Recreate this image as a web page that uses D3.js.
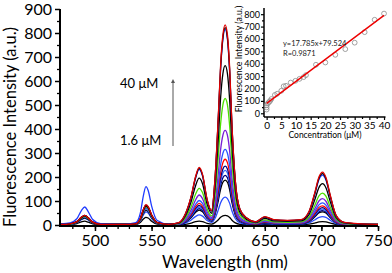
<!DOCTYPE html>
<html><head><meta charset="utf-8">
<script src="https://cdn.jsdelivr.net/npm/d3@7"></script>
<style>body{margin:0;background:#fff}svg{display:block;font-family:Lato,"Open Sans",sans-serif}</style>
</head><body><svg id="c" width="392" height="273"></svg>
<script>
// ---------- DATA ----------
const wavelengths = [470,478,484,488,491,494,498,505,525,536,540,543,545,547,550,555,565,
  574,580,585,589,592,595,599,603,606,609,611,613,615,617,619,621,624,628,634,
  642,650,658,670,682,689,694,698,701,704,708,713,720,732,750];
const seriesColors = ["#000000","#2a4cff","#000000","#00007a","#3a6cff","#000080","#ff0000","#2b55ff","#7a1fd6","#4be000","#000000","#1f3bff","#000000","#e00000"];
const s1  = [1,2,6,13,16,12,5,1,1,2,10,26,32,29,16,4,2, 1,3,8,14,16,14,7,4,10,22,32,38,40,38,31,20,9,3,1, 1,2,1,1,1,4,8,13,14,13,8,3,1,0,0];
const s2  = [2,3,10,22,28,21,8,2,2,3,17,44,55,50,28,7,2, 2,8,21,36,42,37,19,11,27,64,93,110,116,110,90,58,26,9,4, 2,6,4,3,4,9,21,32,35,32,19,6,2,1,1];
const s3  = [2,4,11,24,30,23,9,2,2,4,19,50,62,56,31,7,3, 2,12,31,53,62,55,28,16,44,103,150,178,187,178,146,94,41,15,7, 3,9,6,5,6,14,33,51,55,50,30,10,3,1,1];
const s4  = [2,4,12,27,34,26,10,3,2,4,21,56,70,63,35,8,3, 3,14,34,58,68,60,31,17,48,114,166,197,207,197,161,104,46,17,7, 4,10,6,5,6,15,36,55,60,54,33,11,3,2,1];
const s5  = [2,4,12,27,34,26,10,3,2,4,20,54,68,61,34,8,3, 3,15,38,64,75,66,34,19,53,125,182,217,228,217,178,114,50,18,8, 4,11,7,6,7,17,40,61,66,59,36,12,3,2,1];
const s6  = [2,4,13,30,37,28,11,3,2,5,23,62,78,70,39,9,3, 3,16,41,70,82,72,37,21,57,135,196,233,245,233,191,123,54,20,9, 4,12,7,6,7,18,43,66,72,65,40,13,4,2,1];
const s7  = [2,5,13,30,38,29,11,3,2,5,24,64,80,72,40,10,3, 4,18,45,77,90,79,41,23,64,151,219,260,274,260,214,137,60,22,10, 5,13,8,7,8,20,48,74,80,72,44,14,4,2,1];
const s8  = [2,5,14,32,40,30,12,3,2,5,25,66,82,74,41,10,3, 4,20,51,87,102,90,46,26,73,173,252,299,315,299,246,158,69,25,11, 6,15,9,8,9,23,55,85,92,83,51,17,5,2,1];
const s9  = [2,5,14,32,40,30,12,3,2,5,25,66,82,74,41,10,3, 5,25,63,106,125,110,56,31,91,217,315,374,394,374,307,197,87,32,14, 7,18,11,9,11,28,66,101,110,99,61,20,6,3,2];
const s10 = [2,4,13,29,36,27,11,3,2,5,23,62,78,70,39,9,3, 6,31,77,130,153,135,69,38,121,290,422,501,527,501,411,264,116,42,18, 8,21,13,11,13,33,80,122,133,120,73,24,7,3,2];
const s11 = [2,5,13,30,38,29,11,3,2,5,24,64,80,72,40,10,3, 8,39,98,166,195,172,88,49,152,365,531,631,664,631,518,332,146,53,23, 10,28,17,15,17,43,103,158,172,155,95,31,9,4,3];
const s12 = [5,9,26,60,75,56,23,6,3,10,48,128,160,144,80,19,4, 9,46,116,197,232,204,104,58,186,448,652,774,815,774,636,408,179,65,29, 12,33,21,18,21,52,125,191,208,187,114,37,10,5,3];
const s13 = [2,5,14,32,40,30,12,3,2,5,25,66,82,74,41,10,3, 9,47,118,201,236,208,106,59,188,452,658,781,822,781,641,411,181,66,29, 13,34,21,18,21,54,128,197,214,193,118,39,11,5,3];
const s14 = [2,5,14,32,40,30,12,3,2,5,26,68,85,77,43,10,3, 10,48,120,204,240,211,108,60,191,459,667,792,834,792,651,417,183,67,29, 13,35,22,19,22,55,132,202,220,198,121,40,11,6,3];
const spectra = [s1,s2,s3,s4,s5,s6,s7,s8,s9,s10,s11,s12,s13,s14];
const xTicks = [500,550,600,650,700,750];
const yTicks = [0,100,200,300,400,500,600,700,800,900];

const conc = [0,0,0,0.4,0.8,1.2,1.6,2.8,3.6,5,5.8,6.6,8.2,9.8,11.2,12.6,13.4,16.8,20,23.4,26.8,30,33.4,36.8,40];
const intensity = [30,48,65,80,90,100,115,148,158,182,218,222,248,262,278,292,308,392,410,472,518,570,655,755,805];
const fitSlope = 17.785, fitIntercept = 79.524;
const insetXTicks = [0,5,10,15,20,25,30,35,40];
const insetYTicks = [0,100,200,300,400,500,600,700,800];

// ---------- DRAW ----------
const svg = d3.select("#c");
const x = d3.scaleLinear().domain([470,750]).range([61,378]);
const y = d3.scaleLinear().domain([0,900]).range([225,9]);

const line = d3.line().x((d,i)=>x(wavelengths[i])).y(d=>y(d)).curve(d3.curveMonotoneX);
spectra.forEach((s,i)=>{
  svg.append("path").attr("d",line(s)).attr("fill","none")
    .attr("stroke",seriesColors[i]).attr("stroke-width",1.3);
});

// main axes
const gx = svg.append("g").attr("transform","translate(0,226)");
gx.call(d3.axisBottom(x).tickValues(d3.range(480,751,10)).tickSize(3).tickFormat(""));
gx.selectAll(".tick line").attr("stroke-width",1.3);
const gx2 = svg.append("g").attr("transform","translate(0,226)");
gx2.call(d3.axisBottom(x).tickValues(xTicks).tickSize(5).tickPadding(4));
gx2.selectAll(".tick line").attr("stroke-width",1.5);
gx2.selectAll("text").attr("font-size",16).attr("font-family","Lato");
svg.selectAll(".domain").remove();
svg.append("line").attr("x1",x(470)).attr("x2",x(750)).attr("y1",226).attr("y2",226).attr("stroke","#000").attr("stroke-width",2);

const gy = svg.append("g").attr("transform","translate(60,0)");
gy.call(d3.axisLeft(y).tickValues(d3.range(50,900,100)).tickSize(3).tickFormat(""));
gy.selectAll(".tick line").attr("stroke-width",1.3);
const gy2 = svg.append("g").attr("transform","translate(60,0)");
gy2.call(d3.axisLeft(y).tickValues(yTicks).tickSize(5).tickPadding(3));
gy2.selectAll(".tick line").attr("stroke-width",1.5);
gy2.selectAll("text").attr("font-size",16).attr("font-family","Lato");
gy.select(".domain").remove(); gy2.select(".domain").remove();
svg.append("line").attr("x1",60).attr("x2",60).attr("y1",y(900)).attr("y2",227).attr("stroke","#000").attr("stroke-width",2);

svg.append("text").attr("x",225).attr("y",268).attr("text-anchor","middle").attr("font-size",17).text("Wavelength (nm)");
svg.append("text").attr("transform","translate(16,127) rotate(-90)").attr("text-anchor","middle").attr("font-size",16.5).text("Fluorescence Intensity (a.u.)");

// annotation
svg.append("defs").append("marker").attr("id","ah").attr("viewBox","0 0 10 10").attr("refX",5).attr("refY",5)
  .attr("markerWidth",4).attr("markerHeight",5).attr("orient","auto")
  .append("path").attr("d","M0,0 L10,5 L0,10 z").attr("fill","#555");
svg.append("line").attr("x1",173).attr("x2",173).attr("y1",146).attr("y2",81).attr("stroke","#555").attr("stroke-width",1).attr("marker-end","url(#ah)");
svg.append("text").attr("x",120).attr("y",88).attr("font-size",13).text("40 μM");
svg.append("text").attr("x",120).attr("y",145).attr("font-size",13).text("1.6 μM");

// inset
const ix = d3.scaleLinear().domain([-0.9,40.5]).range([264,385.5]);
const iy = d3.scaleLinear().domain([-30,850]).range([117,8]);
const ia = svg.append("g");
const ixa = ia.append("g").attr("transform","translate(0,117)");
ixa.call(d3.axisBottom(ix).tickValues(d3.range(2.5,41,5)).tickSize(2).tickFormat(""));
const ixb = ia.append("g").attr("transform","translate(0,117)");
ixb.call(d3.axisBottom(ix).tickValues(insetXTicks).tickSize(3).tickPadding(1.5));
ixb.selectAll("text").attr("font-size",10).attr("font-family","Lato");
const iya = ia.append("g").attr("transform","translate(264,0)");
iya.call(d3.axisLeft(iy).tickValues(d3.range(50,850,100)).tickSize(2).tickFormat(""));
const iyb = ia.append("g").attr("transform","translate(264,0)");
iyb.call(d3.axisLeft(iy).tickValues(insetYTicks).tickSize(3).tickPadding(1));
iyb.selectAll("text").attr("font-size",9).attr("font-family","Lato");
ia.selectAll(".domain").remove();
ia.selectAll(".tick line").attr("stroke-width",1.2);
ia.append("line").attr("x1",264).attr("x2",385.5).attr("y1",117).attr("y2",117).attr("stroke","#000").attr("stroke-width",1.5);
ia.append("line").attr("x1",264).attr("x2",264).attr("y1",8).attr("y2",117).attr("stroke","#000").attr("stroke-width",1.5);

ia.selectAll("circle.p").data(conc).join("circle").attr("class","p")
  .attr("cx",(d)=>ix(d)).attr("cy",(d,i)=>iy(intensity[i])).attr("r",2.4)
  .attr("fill","none").attr("stroke","#8a8a8a").attr("stroke-width",0.8);
ia.append("line").attr("x1",ix(0)).attr("x2",ix(40))
  .attr("y1",iy(fitIntercept)).attr("y2",iy(fitSlope*40+fitIntercept))
  .attr("stroke","#ee0000").attr("stroke-width",1.4);
ia.append("text").attr("x",283).attr("y",46).attr("font-size",7.5).attr("fill","#222").text("y=17.785x+79.524");
ia.append("text").attr("x",283).attr("y",56).attr("font-size",7.5).attr("fill","#222").text("R=0.9871");
ia.append("text").attr("x",325).attr("y",138).attr("text-anchor","middle").attr("font-size",8.5).text("Concentration (μM)");
ia.append("text").attr("transform","translate(242,59) rotate(-90)").attr("text-anchor","middle").attr("font-size",8.8).text("Fluorescence Intensity (a.u.)");
</script></body></html>
